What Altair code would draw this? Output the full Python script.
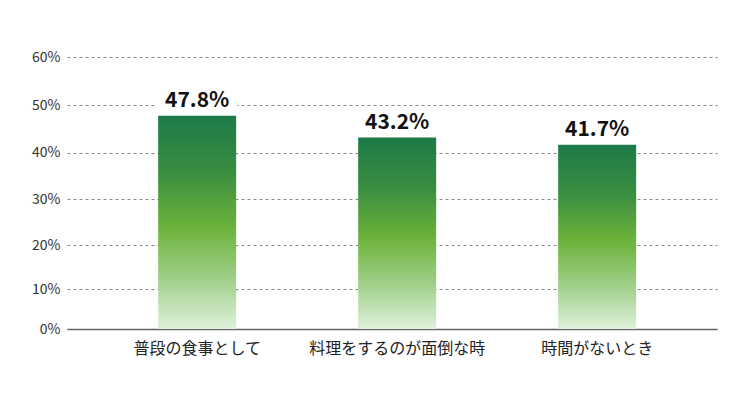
import altair as alt
import pandas as pd

categories = ["普段の食事として", "料理をするのが面倒な時", "時間がないとき"]
values = [47.8, 43.2, 41.7]
labels = ["47.8%", "43.2%", "41.7%"]
y_ticks = [0, 10, 20, 30, 40, 50, 60]

df = pd.DataFrame({"cat": categories, "val": values, "label": labels})

FONT = "Noto Sans CJK JP"

grad = alt.Gradient(
    gradient="linear",
    x1=0, x2=0, y1=0, y2=1,
    stops=[
        alt.GradientStop(color="#1d7a48", offset=0),
        alt.GradientStop(color="#3a8e40", offset=0.27),
        alt.GradientStop(color="#6cb23a", offset=0.52),
        alt.GradientStop(color="#a3d18e", offset=0.78),
        alt.GradientStop(color="#e0f1dc", offset=1),
    ],
)

xs = alt.Scale(paddingInner=0.61, paddingOuter=0.43, align=0.53)
x = alt.X(
    "cat:N",
    sort=categories,
    scale=xs,
    axis=alt.Axis(
        title=None, labelAngle=0, ticks=False, domain=True,
        domainColor="#666666", domainWidth=1.5,
        labelFont=FONT, labelFontSize=16, labelColor="#222222",
        labelPadding=11,
    ),
)
y = alt.Y(
    "val:Q",
    scale=alt.Scale(type="pow", exponent=1.07, domain=[0, 60], nice=False),
    axis=alt.Axis(
        title=None, values=y_ticks, labelExpr="datum.value + '%'",
        ticks=False, domain=False, grid=True,
        gridColor="#8a8a8a", gridDash=[3, 3], gridWidth=1,
        labelFont=FONT, labelFontSize=14, labelColor="#333333",
        labelPadding=7,
    ),
)

bars = alt.Chart(df).mark_bar(color=grad).encode(x=x, y=y)
mask = alt.Chart(df).mark_tick(
    color="white", opacity=1, size=80, thickness=20, yOffset=-15
).encode(x=alt.X("cat:N", sort=categories), y="val:Q")
text = alt.Chart(df).mark_text(
    font=FONT, fontSize=21, fontWeight="bold", color="#111111",
    baseline="bottom", dy=-5,
).encode(x=alt.X("cat:N", sort=categories), y="val:Q", text="label:N")

chart = (
    alt.layer(bars, mask, text)
    .properties(
        width=650, height=272,
        autosize=alt.AutoSizeParams(type="none"),
        padding={"left": 59, "top": 49, "right": 18, "bottom": 81},
    )
    .configure_view(stroke=None)
)

chart.save("out.html", embed_options={"renderer": "svg", "actions": False})
